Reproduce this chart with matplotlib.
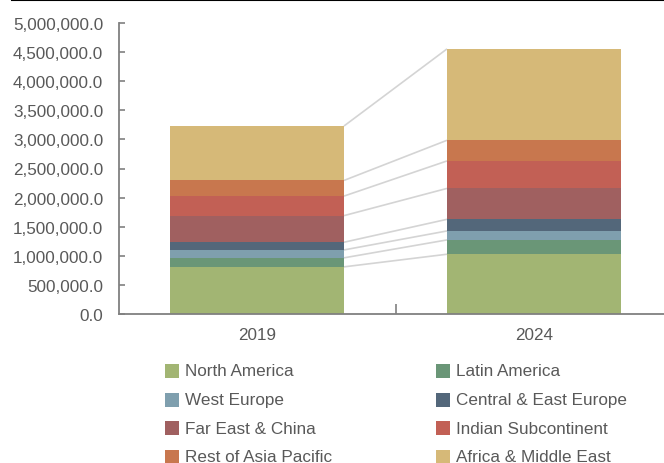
import matplotlib
matplotlib.use("Agg")
import matplotlib.pyplot as plt
from matplotlib.patches import Rectangle
from matplotlib.lines import Line2D
from matplotlib.ticker import FuncFormatter
import numpy as np

plt.rcParams['font.family'] = ['Liberation Sans', 'DejaVu Sans']

years = ["2019", "2024"]
regions = ["North America", "Latin America", "West Europe", "Central & East Europe",
           "Far East & China", "Indian Subcontinent", "Rest of Asia Pacific", "Africa & Middle East"]
values_2019 = [810000, 155000, 136000, 132000, 457000, 336000, 269000, 935000]
values_2024 = [1027000, 246000, 154000, 200000, 531000, 472000, 355000, 1570000]
colors = ["#A2B573", "#6A9677", "#7F9FAE", "#53677A", "#A06060", "#C26055", "#C8774E", "#D6B978"]

yticks = np.arange(0, 5000001, 500000)

W, H = 664, 464
fig = plt.figure(figsize=(W / 100, H / 100), dpi=100)
ax = fig.add_axes([118.5 / W, 1 - 315 / H, 554 / W, 291 / H])

txt_color = "#595959"
fs = 12.3
bw = 0.628
x = np.arange(len(years))
data = np.array([values_2019, values_2024])
bottom = np.zeros(len(years))
for i, reg in enumerate(regions):
    ax.bar(x, data[:, i], bw, bottom=bottom, color=colors[i], edgecolor='none', zorder=2)
    bottom = bottom + data[:, i]

cum = np.cumsum(data, axis=1)
for i in range(len(regions)):
    ax.plot([x[0] + bw / 2, x[1] - bw / 2], [cum[0, i], cum[1, i]],
            color="#D4D4D4", lw=1.2, zorder=1, solid_capstyle='butt')

ax.set_xlim(-0.5, 1.5)
ax.set_ylim(0, 5000000)
ax.set_yticks(yticks)
ax.yaxis.set_major_formatter(FuncFormatter(lambda v, p: f"{v:,.1f}"))
ax.set_xticks([0.5])
ax.set_xticklabels([""])
ax.set_xticks(x, minor=True)
ax.set_xticklabels(years, minor=True)
ax.tick_params(axis='x', which='major', direction='in', length=7, width=1.2, color="#808080")
ax.tick_params(axis='x', which='minor', length=0, pad=9, labelsize=fs, labelcolor=txt_color)
ax.tick_params(axis='y', direction='in', length=4, width=1.2, color="#808080",
               pad=11, labelsize=fs, labelcolor=txt_color)
for s in ['top', 'right']:
    ax.spines[s].set_visible(False)
for s in ['left', 'bottom']:
    ax.spines[s].set_color("#808080")
    ax.spines[s].set_linewidth(1.3)

# legend (manual, 2 columns)
order_rows = [(0, 1), (2, 3), (4, 5), (6, 7)]
col_patch_x = [165, 436]
row_y = [371.5, 400.5, 429.3, 457.8]
ps = 14
for r, pair in enumerate(order_rows):
    for c, idx in enumerate(pair):
        px = col_patch_x[c]
        py = row_y[r]
        fig.add_artist(Rectangle((px / W, 1 - (py + ps / 2) / H), ps / W, ps / H,
                                 transform=fig.transFigure, color=colors[idx], lw=0))
        fig.text((px + ps + 6) / W, 1 - py / H, regions[idx], fontsize=fs,
                 color=txt_color, va='center', ha='left')

fig.add_artist(Line2D([12 / W, 1], [1 - 1 / H, 1 - 1 / H], color='black', lw=1.5,
                      transform=fig.transFigure))

fig.savefig("out.png", dpi=100)
